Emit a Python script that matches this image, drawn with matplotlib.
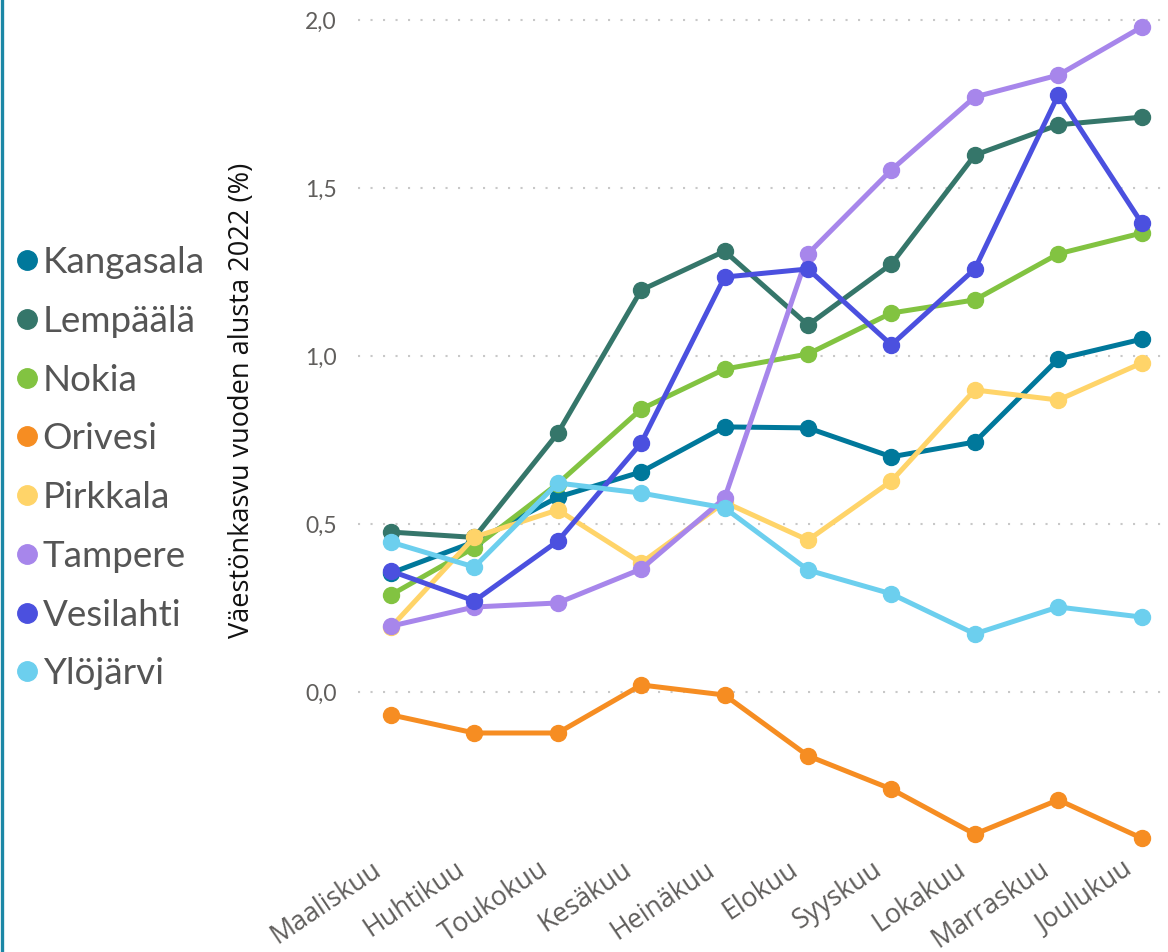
import matplotlib
matplotlib.use("Agg")
import matplotlib.pyplot as plt
from matplotlib.lines import Line2D
from matplotlib.transforms import ScaledTranslation

months = ["Maaliskuu", "Huhtikuu", "Toukokuu", "Kesäkuu", "Heinäkuu",
          "Elokuu", "Syyskuu", "Lokakuu", "Marraskuu", "Joulukuu"]

kangasala = [0.354, 0.447, 0.58, 0.655, 0.789, 0.786, 0.70, 0.744, 0.991, 1.05]
lempaala = [0.476, 0.46, 0.77, 1.196, 1.312, 1.092, 1.274, 1.598, 1.688, 1.711]
nokia = [0.289, 0.43, 0.62, 0.842, 0.961, 1.006, 1.128, 1.167, 1.304, 1.366]
orivesi = [-0.068, -0.122, -0.122, 0.021, -0.009, -0.19, -0.289, -0.423, -0.321, -0.435]
pirkkala = [0.193, 0.461, 0.542, 0.384, 0.565, 0.452, 0.628, 0.899, 0.869, 0.979]
tampere = [0.196, 0.253, 0.265, 0.366, 0.577, 1.304, 1.554, 1.771, 1.836, 1.979]
vesilahti = [0.36, 0.271, 0.449, 0.741, 1.235, 1.259, 1.033, 1.259, 1.777, 1.396]
ylojarvi = [0.446, 0.372, 0.622, 0.592, 0.548, 0.363, 0.292, 0.173, 0.253, 0.223]

series_names = ["Kangasala", "Lempäälä", "Nokia", "Orivesi", "Pirkkala",
                "Tampere", "Vesilahti", "Ylöjärvi"]
series_values = [kangasala, lempaala, nokia, orivesi, pirkkala,
                 tampere, vesilahti, ylojarvi]
colors = ["#00789B", "#35766A", "#82C341", "#F68D22", "#FFD469",
          "#A786EB", "#4B50DF", "#6CCFEE"]

y_ticks = [0.0, 0.5, 1.0, 1.5, 2.0]
y_tick_labels = ["0,0", "0,5", "1,0", "1,5", "2,0"]
y_label = "Väestönkasvu vuoden alusta 2022 (%)"

W, H = 1168, 952
fig = plt.figure(figsize=(W / 100, H / 100), dpi=100)
ax = fig.add_axes([357.6 / W, 1 - 860 / H, (1167.5 - 357.6) / W, (860 - 3.2) / H])

x = list(range(len(months)))
handles = []
for name, vals, c in zip(series_names, series_values, colors):
    ax.plot(x, vals, color=c, lw=3.6, marker="o", markersize=11.5,
            solid_joinstyle="round", solid_capstyle="round", zorder=3)
    handles.append(Line2D([], [], ls="none", marker="o", markersize=14,
                          color=c, label=name))

ax.set_xlim(-0.4, 9.31)
ax.set_ylim(-0.5, 2.05)
ax.set_yticks(y_ticks)
ax.set_yticklabels(y_tick_labels)
ax.set_xticks(x)
ax.set_xticklabels(months, rotation=34, ha="right", va="center",
                   rotation_mode="anchor")
ax.tick_params(axis="y", length=0, pad=15)
ax.tick_params(axis="x", length=0, pad=5)
for lbl in ax.get_yticklabels():
    lbl.set_family(["Lato", "DejaVu Sans"])
    lbl.set_fontsize(16.5)
    lbl.set_color("#605E5C")
shift = ScaledTranslation(-0.12, 0, fig.dpi_scale_trans)
for lbl in ax.get_xticklabels():
    lbl.set_family(["Open Sans", "DejaVu Sans"])
    lbl.set_fontsize(19.3)
    lbl.set_color("#605E5C")
    lbl.set_transform(lbl.get_transform() + shift)
ax.grid(axis="y", color="#C8C8C8", linestyle=(0, (1, 5)), linewidth=1.5)
ax.grid(axis="x", visible=False)
for s in ax.spines.values():
    s.set_visible(False)
ax.set_axisbelow(True)

fig.text(242 / W, 1 - 400 / H, y_label, rotation=90, ha="center", va="center",
         fontsize=19.5, color="#111111", family=["Open Sans", "DejaVu Sans"])

leg = fig.legend(handles=handles, loc="upper left",
                 bbox_to_anchor=(19 / W, 1 - 246 / H), frameon=False,
                 handlelength=0.42, handletextpad=0.22, labelspacing=0.7,
                 borderaxespad=0, borderpad=0,
                 prop={"family": ["Lato", "DejaVu Sans"], "size": 26.5})
for t in leg.get_texts():
    t.set_color("#555555")

fig.add_artist(Line2D([1.5 / W, 1.5 / W], [0, 1], transform=fig.transFigure,
                      color="#1B87A6", lw=2.4))

fig.savefig("out.png", dpi=100)
